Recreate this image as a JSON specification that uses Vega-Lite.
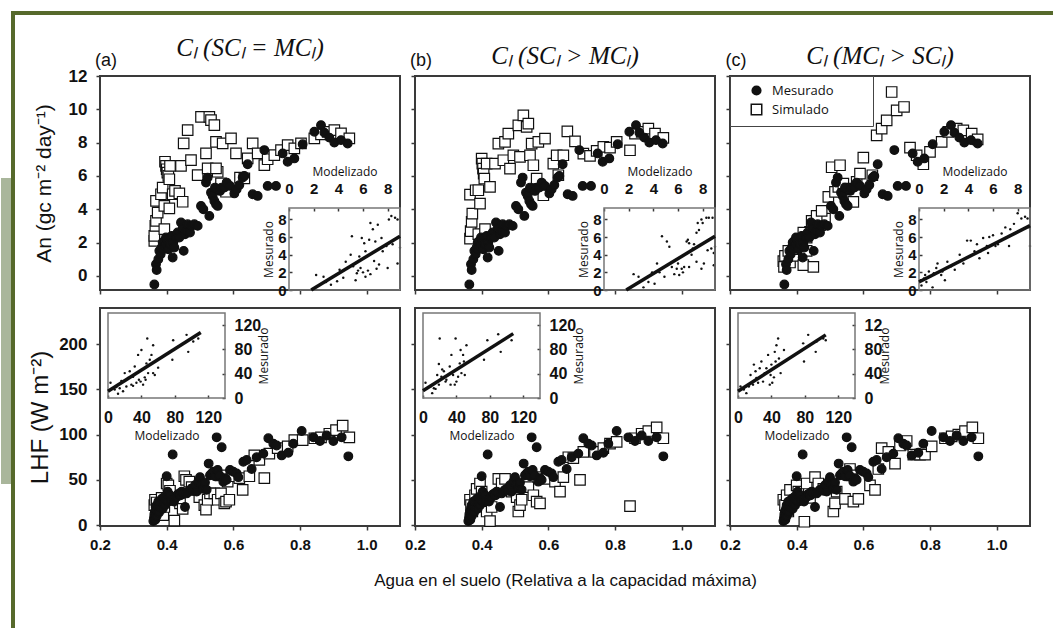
{
"$schema": "https://vega.github.io/schema/vega-lite/v6.json",
"background": "white",
"padding": {"left": 0, "top": 10, "right": 0, "bottom": 0},
"columns": 3,
"bounds": "flush",
"spacing": {"row": 18, "column": 15},
"resolve": {"scale": {"shape": "independent", "fill": "independent", "size": "independent"}, "legend": {"shape": "independent", "fill": "independent", "size": "independent"}},
"config": {
  "view": {"stroke": "#3a3a3a", "strokeWidth": 2},
  "axis": {"domain": false, "grid": false, "tickColor": "#3a3a3a", "tickSize": 4, "tickWidth": 1.5, "labelFont": "Liberation Sans", "labelFontWeight": "bold", "labelFontSize": 17, "labelColor": "#111", "titleFont": "Liberation Sans", "titleFontWeight": "normal", "titleColor": "#111", "labelFlush": false, "labelOverlap": false},
  "title": {"font": "Liberation Serif", "fontSize": 25, "fontStyle": "italic", "fontWeight": "normal", "color": "#111", "offset": 6, "frame": "group"}
},
"datasets": {
"an": [
{"s":"Simulado","p":"a","x":0.363,"y":2.1},{"s":"Simulado","p":"a","x":0.363,"y":2.4},{"s":"Simulado","p":"a","x":0.366,"y":3.0},{"s":"Simulado","p":"a","x":0.368,"y":3.3},{"s":"Simulado","p":"a","x":0.373,"y":3.8},{"s":"Simulado","p":"a","x":0.368,"y":4.5},{"s":"Simulado","p":"a","x":0.383,"y":4.9},{"s":"Simulado","p":"a","x":0.388,"y":5.3},{"s":"Simulado","p":"a","x":0.393,"y":4.2},{"s":"Simulado","p":"a","x":0.393,"y":2.8},{"s":"Simulado","p":"a","x":0.395,"y":6.85},{"s":"Simulado","p":"a","x":0.398,"y":6.6},{"s":"Simulado","p":"a","x":0.4,"y":6.4},{"s":"Simulado","p":"a","x":0.402,"y":6.2},{"s":"Simulado","p":"a","x":0.405,"y":6.0},{"s":"Simulado","p":"a","x":0.408,"y":5.8},{"s":"Simulado","p":"a","x":0.41,"y":6.6},{"s":"Simulado","p":"a","x":0.408,"y":4.05},{"s":"Simulado","p":"a","x":0.418,"y":4.9},{"s":"Simulado","p":"a","x":0.425,"y":5.1},{"s":"Simulado","p":"a","x":0.443,"y":6.6},{"s":"Simulado","p":"a","x":0.438,"y":4.95},{"s":"Simulado","p":"a","x":0.448,"y":4.45},{"s":"Simulado","p":"a","x":0.451,"y":7.95},{"s":"Simulado","p":"a","x":0.463,"y":8.75},{"s":"Simulado","p":"a","x":0.473,"y":6.95},{"s":"Simulado","p":"a","x":0.493,"y":6.05},{"s":"Simulado","p":"a","x":0.503,"y":9.55},{"s":"Simulado","p":"a","x":0.518,"y":7.35},{"s":"Simulado","p":"a","x":0.523,"y":6.45},{"s":"Simulado","p":"a","x":0.528,"y":9.55},{"s":"Simulado","p":"a","x":0.533,"y":9.35},{"s":"Simulado","p":"a","x":0.543,"y":9.05},{"s":"Simulado","p":"a","x":0.548,"y":8.05},{"s":"Simulado","p":"a","x":0.553,"y":6.25},{"s":"Simulado","p":"a","x":0.548,"y":6.45},{"s":"Simulado","p":"a","x":0.563,"y":5.55},{"s":"Simulado","p":"a","x":0.568,"y":7.95},{"s":"Simulado","p":"a","x":0.578,"y":5.05},{"s":"Simulado","p":"a","x":0.593,"y":8.25},{"s":"Simulado","p":"a","x":0.608,"y":7.35},{"s":"Simulado","p":"a","x":0.62,"y":5.9},{"s":"Simulado","p":"a","x":0.633,"y":5.85},{"s":"Simulado","p":"a","x":0.643,"y":7.05},{"s":"Simulado","p":"a","x":0.658,"y":7.95},{"s":"Simulado","p":"a","x":0.673,"y":7.35},{"s":"Simulado","p":"a","x":0.693,"y":6.65},{"s":"Simulado","p":"a","x":0.703,"y":7.0},{"s":"Simulado","p":"a","x":0.723,"y":7.25},{"s":"Simulado","p":"a","x":0.743,"y":7.55},{"s":"Simulado","p":"a","x":0.763,"y":7.85},{"s":"Simulado","p":"a","x":0.783,"y":7.65},{"s":"Simulado","p":"a","x":0.803,"y":7.95},{"s":"Simulado","p":"a","x":0.843,"y":8.25},{"s":"Simulado","p":"a","x":0.863,"y":8.5},{"s":"Simulado","p":"a","x":0.883,"y":8.65},{"s":"Simulado","p":"a","x":0.903,"y":8.75},{"s":"Simulado","p":"a","x":0.923,"y":8.55},{"s":"Simulado","p":"a","x":0.948,"y":8.25},
{"s":"Simulado","p":"b","x":0.365,"y":2.24},{"s":"Simulado","p":"b","x":0.367,"y":2.68},{"s":"Simulado","p":"b","x":0.37,"y":3.24},{"s":"Simulado","p":"b","x":0.372,"y":3.74},{"s":"Simulado","p":"b","x":0.365,"y":4.88},{"s":"Simulado","p":"b","x":0.382,"y":5.14},{"s":"Simulado","p":"b","x":0.39,"y":5.14},{"s":"Simulado","p":"b","x":0.395,"y":4.34},{"s":"Simulado","p":"b","x":0.4,"y":7.04},{"s":"Simulado","p":"b","x":0.402,"y":6.74},{"s":"Simulado","p":"b","x":0.404,"y":6.44},{"s":"Simulado","p":"b","x":0.406,"y":6.14},{"s":"Simulado","p":"b","x":0.408,"y":5.84},{"s":"Simulado","p":"b","x":0.415,"y":6.74},{"s":"Simulado","p":"b","x":0.425,"y":5.34},{"s":"Simulado","p":"b","x":0.44,"y":6.74},{"s":"Simulado","p":"b","x":0.45,"y":7.94},{"s":"Simulado","p":"b","x":0.465,"y":6.94},{"s":"Simulado","p":"b","x":0.47,"y":8.04},{"s":"Simulado","p":"b","x":0.48,"y":8.54},{"s":"Simulado","p":"b","x":0.485,"y":6.44},{"s":"Simulado","p":"b","x":0.495,"y":7.24},{"s":"Simulado","p":"b","x":0.51,"y":9.04},{"s":"Simulado","p":"b","x":0.515,"y":7.14},{"s":"Simulado","p":"b","x":0.525,"y":9.64},{"s":"Simulado","p":"b","x":0.535,"y":8.94},{"s":"Simulado","p":"b","x":0.54,"y":9.14},{"s":"Simulado","p":"b","x":0.545,"y":7.24},{"s":"Simulado","p":"b","x":0.55,"y":7.94},{"s":"Simulado","p":"b","x":0.555,"y":6.64},{"s":"Simulado","p":"b","x":0.565,"y":5.84},{"s":"Simulado","p":"b","x":0.57,"y":8.04},{"s":"Simulado","p":"b","x":0.585,"y":4.84},{"s":"Simulado","p":"b","x":0.59,"y":8.24},{"s":"Simulado","p":"b","x":0.615,"y":6.74},{"s":"Simulado","p":"b","x":0.625,"y":7.24},{"s":"Simulado","p":"b","x":0.63,"y":6.04},{"s":"Simulado","p":"b","x":0.645,"y":7.24},{"s":"Simulado","p":"b","x":0.657,"y":8.68},{"s":"Simulado","p":"b","x":0.68,"y":8.08},{"s":"Simulado","p":"b","x":0.705,"y":7.34},{"s":"Simulado","p":"b","x":0.725,"y":7.2},{"s":"Simulado","p":"b","x":0.745,"y":7.5},{"s":"Simulado","p":"b","x":0.765,"y":7.74},{"s":"Simulado","p":"b","x":0.785,"y":7.7},{"s":"Simulado","p":"b","x":0.805,"y":8.04},{"s":"Simulado","p":"b","x":0.845,"y":7.54},{"s":"Simulado","p":"b","x":0.86,"y":8.54},{"s":"Simulado","p":"b","x":0.88,"y":8.64},{"s":"Simulado","p":"b","x":0.9,"y":8.84},{"s":"Simulado","p":"b","x":0.92,"y":8.54},{"s":"Simulado","p":"b","x":0.945,"y":8.28},{"s":"Simulado","p":"b","x":0.39,"y":2.5},{"s":"Simulado","p":"b","x":0.41,"y":2.8},
{"s":"Simulado","p":"c","x":0.36,"y":0.88},{"s":"Simulado","p":"c","x":0.362,"y":0.54},{"s":"Simulado","p":"c","x":0.365,"y":1.2},{"s":"Simulado","p":"c","x":0.375,"y":1.5},{"s":"Simulado","p":"c","x":0.38,"y":0.8},{"s":"Simulado","p":"c","x":0.39,"y":1.2},{"s":"Simulado","p":"c","x":0.395,"y":1.6},{"s":"Simulado","p":"c","x":0.405,"y":1.84},{"s":"Simulado","p":"c","x":0.42,"y":0.64},{"s":"Simulado","p":"c","x":0.43,"y":1.5},{"s":"Simulado","p":"c","x":0.45,"y":0.54},{"s":"Simulado","p":"c","x":0.44,"y":2.64},{"s":"Simulado","p":"c","x":0.455,"y":2.94},{"s":"Simulado","p":"c","x":0.47,"y":3.04},{"s":"Simulado","p":"c","x":0.485,"y":3.44},{"s":"Simulado","p":"c","x":0.495,"y":4.74},{"s":"Simulado","p":"c","x":0.505,"y":6.52},{"s":"Simulado","p":"c","x":0.53,"y":6.64},{"s":"Simulado","p":"c","x":0.515,"y":5.04},{"s":"Simulado","p":"c","x":0.525,"y":5.34},{"s":"Simulado","p":"c","x":0.54,"y":5.54},{"s":"Simulado","p":"c","x":0.555,"y":5.24},{"s":"Simulado","p":"c","x":0.57,"y":4.44},{"s":"Simulado","p":"c","x":0.58,"y":5.64},{"s":"Simulado","p":"c","x":0.59,"y":6.14},{"s":"Simulado","p":"c","x":0.6,"y":7.1},{"s":"Simulado","p":"c","x":0.627,"y":6.04},{"s":"Simulado","p":"c","x":0.64,"y":8.44},{"s":"Simulado","p":"c","x":0.655,"y":8.84},{"s":"Simulado","p":"c","x":0.67,"y":9.34},{"s":"Simulado","p":"c","x":0.685,"y":11.04},{"s":"Simulado","p":"c","x":0.7,"y":9.94},{"s":"Simulado","p":"c","x":0.722,"y":10.14},{"s":"Simulado","p":"c","x":0.74,"y":7.7},{"s":"Simulado","p":"c","x":0.76,"y":7.24},{"s":"Simulado","p":"c","x":0.78,"y":6.7},{"s":"Simulado","p":"c","x":0.8,"y":7.44},{"s":"Simulado","p":"c","x":0.835,"y":8.04},{"s":"Simulado","p":"c","x":0.855,"y":8.64},{"s":"Simulado","p":"c","x":0.88,"y":8.84},{"s":"Simulado","p":"c","x":0.9,"y":8.74},{"s":"Simulado","p":"c","x":0.925,"y":8.54},{"s":"Simulado","p":"c","x":0.943,"y":8.2},{"s":"Simulado","p":"c","x":0.41,"y":2.2},{"s":"Simulado","p":"c","x":0.42,"y":2.6},{"s":"Simulado","p":"c","x":0.43,"y":2.3},{"s":"Simulado","p":"c","x":0.445,"y":3.3},{"s":"Simulado","p":"c","x":0.46,"y":3.6},{"s":"Simulado","p":"c","x":0.475,"y":3.9},
{"s":"Mesurado","x":0.363,"y":-0.52},{"s":"Mesurado","x":0.368,"y":0.7},{"s":"Mesurado","x":0.37,"y":0.35},{"s":"Mesurado","x":0.375,"y":1.0},{"s":"Mesurado","x":0.378,"y":1.5},{"s":"Mesurado","x":0.382,"y":1.3},{"s":"Mesurado","x":0.385,"y":1.7},{"s":"Mesurado","x":0.388,"y":2.0},{"s":"Mesurado","x":0.39,"y":1.6},{"s":"Mesurado","x":0.393,"y":2.1},{"s":"Mesurado","x":0.395,"y":1.8},{"s":"Mesurado","x":0.398,"y":2.3},{"s":"Mesurado","x":0.4,"y":1.9},{"s":"Mesurado","x":0.403,"y":2.2},{"s":"Mesurado","x":0.405,"y":1.6},{"s":"Mesurado","x":0.408,"y":2.0},{"s":"Mesurado","x":0.41,"y":1.9},{"s":"Mesurado","x":0.415,"y":2.4},{"s":"Mesurado","x":0.418,"y":1.1},{"s":"Mesurado","x":0.42,"y":2.0},{"s":"Mesurado","x":0.423,"y":1.7},{"s":"Mesurado","x":0.428,"y":2.3},{"s":"Mesurado","x":0.433,"y":2.6},{"s":"Mesurado","x":0.438,"y":2.3},{"s":"Mesurado","x":0.443,"y":3.2},{"s":"Mesurado","x":0.448,"y":2.85},{"s":"Mesurado","x":0.451,"y":1.5},{"s":"Mesurado","x":0.455,"y":2.5},{"s":"Mesurado","x":0.46,"y":2.7},{"s":"Mesurado","x":0.463,"y":3.1},{"s":"Mesurado","x":0.47,"y":2.6},{"s":"Mesurado","x":0.475,"y":3.0},{"s":"Mesurado","x":0.483,"y":3.1},{"s":"Mesurado","x":0.493,"y":3.0},{"s":"Mesurado","x":0.503,"y":4.2},{"s":"Mesurado","x":0.51,"y":4.0},{"s":"Mesurado","x":0.518,"y":5.6},{"s":"Mesurado","x":0.523,"y":5.9},{"s":"Mesurado","x":0.528,"y":3.6},{"s":"Mesurado","x":0.533,"y":5.0},{"s":"Mesurado","x":0.538,"y":4.8},{"s":"Mesurado","x":0.543,"y":4.5},{"s":"Mesurado","x":0.545,"y":5.3},{"s":"Mesurado","x":0.548,"y":4.3},{"s":"Mesurado","x":0.553,"y":4.2},{"s":"Mesurado","x":0.56,"y":5.1},{"s":"Mesurado","x":0.565,"y":5.3},{"s":"Mesurado","x":0.573,"y":5.3},{"s":"Mesurado","x":0.58,"y":5.6},{"s":"Mesurado","x":0.59,"y":5.4},{"s":"Mesurado","x":0.603,"y":4.95},{"s":"Mesurado","x":0.61,"y":5.2},{"s":"Mesurado","x":0.618,"y":5.45},{"s":"Mesurado","x":0.628,"y":5.9},{"s":"Mesurado","x":0.633,"y":6.0},{"s":"Mesurado","x":0.643,"y":6.7},{"s":"Mesurado","x":0.658,"y":4.9},{"s":"Mesurado","x":0.673,"y":4.8},{"s":"Mesurado","x":0.693,"y":7.55},{"s":"Mesurado","x":0.703,"y":5.4},{"s":"Mesurado","x":0.728,"y":5.4},{"s":"Mesurado","x":0.748,"y":7.35},{"s":"Mesurado","x":0.763,"y":6.85},{"s":"Mesurado","x":0.783,"y":7.05},{"s":"Mesurado","x":0.808,"y":7.9},{"s":"Mesurado","x":0.843,"y":8.65},{"s":"Mesurado","x":0.863,"y":9.05},{"s":"Mesurado","x":0.873,"y":8.6},{"s":"Mesurado","x":0.888,"y":8.3},{"s":"Mesurado","x":0.903,"y":8.0},{"s":"Mesurado","x":0.923,"y":8.15},{"s":"Mesurado","x":0.943,"y":7.95}
],
"lhf": [
{"s":"Simulado","p":"a","x":0.363,"y":22},{"s":"Simulado","p":"a","x":0.365,"y":28},{"s":"Simulado","p":"a","x":0.37,"y":25},{"s":"Simulado","p":"a","x":0.375,"y":18},{"s":"Simulado","p":"a","x":0.38,"y":13},{"s":"Simulado","p":"a","x":0.385,"y":30},{"s":"Simulado","p":"a","x":0.39,"y":11},{"s":"Simulado","p":"a","x":0.393,"y":20},{"s":"Simulado","p":"a","x":0.4,"y":46},{"s":"Simulado","p":"a","x":0.405,"y":44},{"s":"Simulado","p":"a","x":0.41,"y":38},{"s":"Simulado","p":"a","x":0.423,"y":5},{"s":"Simulado","p":"a","x":0.425,"y":28},{"s":"Simulado","p":"a","x":0.44,"y":24},{"s":"Simulado","p":"a","x":0.448,"y":18},{"s":"Simulado","p":"a","x":0.453,"y":54},{"s":"Simulado","p":"a","x":0.458,"y":50},{"s":"Simulado","p":"a","x":0.468,"y":48},{"s":"Simulado","p":"a","x":0.475,"y":42},{"s":"Simulado","p":"a","x":0.483,"y":39},{"s":"Simulado","p":"a","x":0.498,"y":31},{"s":"Simulado","p":"a","x":0.513,"y":22},{"s":"Simulado","p":"a","x":0.518,"y":17},{"s":"Simulado","p":"a","x":0.523,"y":28},{"s":"Simulado","p":"a","x":0.53,"y":35},{"s":"Simulado","p":"a","x":0.543,"y":35},{"s":"Simulado","p":"a","x":0.553,"y":28},{"s":"Simulado","p":"a","x":0.563,"y":35},{"s":"Simulado","p":"a","x":0.563,"y":55},{"s":"Simulado","p":"a","x":0.573,"y":24},{"s":"Simulado","p":"a","x":0.578,"y":26},{"s":"Simulado","p":"a","x":0.583,"y":48},{"s":"Simulado","p":"a","x":0.588,"y":28},{"s":"Simulado","p":"a","x":0.603,"y":54},{"s":"Simulado","p":"a","x":0.618,"y":52},{"s":"Simulado","p":"a","x":0.628,"y":39},{"s":"Simulado","p":"a","x":0.648,"y":54},{"s":"Simulado","p":"a","x":0.663,"y":77},{"s":"Simulado","p":"a","x":0.678,"y":72},{"s":"Simulado","p":"a","x":0.693,"y":52},{"s":"Simulado","p":"a","x":0.708,"y":79},{"s":"Simulado","p":"a","x":0.733,"y":85},{"s":"Simulado","p":"a","x":0.763,"y":87},{"s":"Simulado","p":"a","x":0.783,"y":94},{"s":"Simulado","p":"a","x":0.808,"y":94},{"s":"Simulado","p":"a","x":0.843,"y":96},{"s":"Simulado","p":"a","x":0.863,"y":97},{"s":"Simulado","p":"a","x":0.888,"y":101},{"s":"Simulado","p":"a","x":0.908,"y":105},{"s":"Simulado","p":"a","x":0.928,"y":110},{"s":"Simulado","p":"a","x":0.948,"y":97},
{"s":"Simulado","p":"b","x":0.365,"y":28},{"s":"Simulado","p":"b","x":0.368,"y":22},{"s":"Simulado","p":"b","x":0.372,"y":15},{"s":"Simulado","p":"b","x":0.38,"y":33},{"s":"Simulado","p":"b","x":0.385,"y":40},{"s":"Simulado","p":"b","x":0.39,"y":25},{"s":"Simulado","p":"b","x":0.395,"y":46},{"s":"Simulado","p":"b","x":0.4,"y":37},{"s":"Simulado","p":"b","x":0.405,"y":28},{"s":"Simulado","p":"b","x":0.415,"y":15},{"s":"Simulado","p":"b","x":0.425,"y":4.4},{"s":"Simulado","p":"b","x":0.43,"y":20},{"s":"Simulado","p":"b","x":0.45,"y":51},{"s":"Simulado","p":"b","x":0.46,"y":46},{"s":"Simulado","p":"b","x":0.47,"y":51},{"s":"Simulado","p":"b","x":0.49,"y":37},{"s":"Simulado","p":"b","x":0.505,"y":31},{"s":"Simulado","p":"b","x":0.51,"y":15},{"s":"Simulado","p":"b","x":0.515,"y":22},{"s":"Simulado","p":"b","x":0.52,"y":28},{"s":"Simulado","p":"b","x":0.54,"y":42},{"s":"Simulado","p":"b","x":0.555,"y":33},{"s":"Simulado","p":"b","x":0.565,"y":26},{"s":"Simulado","p":"b","x":0.575,"y":24},{"s":"Simulado","p":"b","x":0.57,"y":53},{"s":"Simulado","p":"b","x":0.595,"y":51},{"s":"Simulado","p":"b","x":0.62,"y":48},{"s":"Simulado","p":"b","x":0.635,"y":37},{"s":"Simulado","p":"b","x":0.645,"y":53},{"s":"Simulado","p":"b","x":0.66,"y":75},{"s":"Simulado","p":"b","x":0.675,"y":74},{"s":"Simulado","p":"b","x":0.695,"y":50},{"s":"Simulado","p":"b","x":0.705,"y":81},{"s":"Simulado","p":"b","x":0.74,"y":81},{"s":"Simulado","p":"b","x":0.765,"y":85},{"s":"Simulado","p":"b","x":0.785,"y":90},{"s":"Simulado","p":"b","x":0.805,"y":92},{"s":"Simulado","p":"b","x":0.845,"y":21},{"s":"Simulado","p":"b","x":0.86,"y":96},{"s":"Simulado","p":"b","x":0.88,"y":101},{"s":"Simulado","p":"b","x":0.9,"y":104},{"s":"Simulado","p":"b","x":0.925,"y":108},{"s":"Simulado","p":"b","x":0.945,"y":96},
{"s":"Simulado","p":"c","x":0.36,"y":28},{"s":"Simulado","p":"c","x":0.365,"y":22},{"s":"Simulado","p":"c","x":0.37,"y":33},{"s":"Simulado","p":"c","x":0.375,"y":15},{"s":"Simulado","p":"c","x":0.38,"y":39},{"s":"Simulado","p":"c","x":0.39,"y":25},{"s":"Simulado","p":"c","x":0.4,"y":44},{"s":"Simulado","p":"c","x":0.405,"y":37},{"s":"Simulado","p":"c","x":0.41,"y":29},{"s":"Simulado","p":"c","x":0.423,"y":3.7},{"s":"Simulado","p":"c","x":0.43,"y":46},{"s":"Simulado","p":"c","x":0.44,"y":30},{"s":"Simulado","p":"c","x":0.455,"y":53},{"s":"Simulado","p":"c","x":0.465,"y":46},{"s":"Simulado","p":"c","x":0.48,"y":40},{"s":"Simulado","p":"c","x":0.51,"y":15},{"s":"Simulado","p":"c","x":0.515,"y":24},{"s":"Simulado","p":"c","x":0.52,"y":37},{"s":"Simulado","p":"c","x":0.545,"y":29},{"s":"Simulado","p":"c","x":0.56,"y":62},{"s":"Simulado","p":"c","x":0.565,"y":55},{"s":"Simulado","p":"c","x":0.57,"y":26},{"s":"Simulado","p":"c","x":0.585,"y":29},{"s":"Simulado","p":"c","x":0.62,"y":44},{"s":"Simulado","p":"c","x":0.635,"y":39},{"s":"Simulado","p":"c","x":0.645,"y":62},{"s":"Simulado","p":"c","x":0.655,"y":85},{"s":"Simulado","p":"c","x":0.675,"y":81},{"s":"Simulado","p":"c","x":0.695,"y":68},{"s":"Simulado","p":"c","x":0.71,"y":88},{"s":"Simulado","p":"c","x":0.73,"y":93},{"s":"Simulado","p":"c","x":0.75,"y":78},{"s":"Simulado","p":"c","x":0.77,"y":78},{"s":"Simulado","p":"c","x":0.785,"y":78},{"s":"Simulado","p":"c","x":0.805,"y":87},{"s":"Simulado","p":"c","x":0.845,"y":96},{"s":"Simulado","p":"c","x":0.865,"y":98},{"s":"Simulado","p":"c","x":0.885,"y":100},{"s":"Simulado","p":"c","x":0.905,"y":104},{"s":"Simulado","p":"c","x":0.927,"y":108},{"s":"Simulado","p":"c","x":0.945,"y":96},
{"s":"Mesurado","x":0.36,"y":4.4},{"s":"Mesurado","x":0.362,"y":8},{"s":"Mesurado","x":0.363,"y":12},{"s":"Mesurado","x":0.365,"y":15},{"s":"Mesurado","x":0.366,"y":6},{"s":"Mesurado","x":0.368,"y":18},{"s":"Mesurado","x":0.37,"y":22},{"s":"Mesurado","x":0.37,"y":10},{"s":"Mesurado","x":0.372,"y":16},{"s":"Mesurado","x":0.375,"y":26},{"s":"Mesurado","x":0.377,"y":14},{"s":"Mesurado","x":0.38,"y":20},{"s":"Mesurado","x":0.382,"y":25},{"s":"Mesurado","x":0.385,"y":29},{"s":"Mesurado","x":0.388,"y":18},{"s":"Mesurado","x":0.39,"y":24},{"s":"Mesurado","x":0.393,"y":31},{"s":"Mesurado","x":0.395,"y":22},{"s":"Mesurado","x":0.398,"y":28},{"s":"Mesurado","x":0.4,"y":54},{"s":"Mesurado","x":0.403,"y":37},{"s":"Mesurado","x":0.405,"y":26},{"s":"Mesurado","x":0.41,"y":33},{"s":"Mesurado","x":0.413,"y":27},{"s":"Mesurado","x":0.418,"y":78},{"s":"Mesurado","x":0.422,"y":26},{"s":"Mesurado","x":0.425,"y":30},{"s":"Mesurado","x":0.43,"y":31},{"s":"Mesurado","x":0.434,"y":34},{"s":"Mesurado","x":0.438,"y":35},{"s":"Mesurado","x":0.442,"y":33},{"s":"Mesurado","x":0.445,"y":37},{"s":"Mesurado","x":0.45,"y":36},{"s":"Mesurado","x":0.455,"y":20},{"s":"Mesurado","x":0.46,"y":35},{"s":"Mesurado","x":0.465,"y":37},{"s":"Mesurado","x":0.47,"y":39},{"s":"Mesurado","x":0.475,"y":40},{"s":"Mesurado","x":0.48,"y":38},{"s":"Mesurado","x":0.485,"y":44},{"s":"Mesurado","x":0.49,"y":37},{"s":"Mesurado","x":0.495,"y":48},{"s":"Mesurado","x":0.5,"y":53},{"s":"Mesurado","x":0.505,"y":45},{"s":"Mesurado","x":0.51,"y":40},{"s":"Mesurado","x":0.515,"y":47},{"s":"Mesurado","x":0.52,"y":39},{"s":"Mesurado","x":0.526,"y":68},{"s":"Mesurado","x":0.53,"y":55},{"s":"Mesurado","x":0.535,"y":57},{"s":"Mesurado","x":0.54,"y":59},{"s":"Mesurado","x":0.545,"y":54},{"s":"Mesurado","x":0.55,"y":97},{"s":"Mesurado","x":0.553,"y":61},{"s":"Mesurado","x":0.558,"y":55},{"s":"Mesurado","x":0.565,"y":86},{"s":"Mesurado","x":0.57,"y":48},{"s":"Mesurado","x":0.575,"y":52},{"s":"Mesurado","x":0.58,"y":50},{"s":"Mesurado","x":0.59,"y":61},{"s":"Mesurado","x":0.6,"y":59},{"s":"Mesurado","x":0.61,"y":57},{"s":"Mesurado","x":0.615,"y":53},{"s":"Mesurado","x":0.63,"y":70},{"s":"Mesurado","x":0.64,"y":72},{"s":"Mesurado","x":0.655,"y":62},{"s":"Mesurado","x":0.67,"y":75},{"s":"Mesurado","x":0.69,"y":79},{"s":"Mesurado","x":0.705,"y":96},{"s":"Mesurado","x":0.72,"y":90},{"s":"Mesurado","x":0.73,"y":88},{"s":"Mesurado","x":0.745,"y":77},{"s":"Mesurado","x":0.765,"y":80},{"s":"Mesurado","x":0.78,"y":90},{"s":"Mesurado","x":0.805,"y":104},{"s":"Mesurado","x":0.84,"y":97},{"s":"Mesurado","x":0.86,"y":93},{"s":"Mesurado","x":0.88,"y":99},{"s":"Mesurado","x":0.9,"y":93},{"s":"Mesurado","x":0.925,"y":97},{"s":"Mesurado","x":0.945,"y":76}
],
"ins_an": [
{"p":"a","m":2.2,"o":1.7},{"p":"a","m":2.8,"o":1.5},{"p":"a","m":3.4,"o":0.6},{"p":"a","m":3.9,"o":1.0},{"p":"a","m":4.1,"o":2.3},{"p":"a","m":4.6,"o":3.2},{"p":"a","m":5.0,"o":4.0},{"p":"a","m":5.1,"o":6.1},{"p":"a","m":5.2,"o":2.7},{"p":"a","m":5.4,"o":1.1},{"p":"a","m":5.5,"o":1.9},{"p":"a","m":5.7,"o":3.8},{"p":"a","m":5.8,"o":2.5},{"p":"a","m":5.9,"o":5.9},{"p":"a","m":6.1,"o":5.3},{"p":"a","m":6.2,"o":4.4},{"p":"a","m":6.2,"o":1.5},{"p":"a","m":6.4,"o":2.2},{"p":"a","m":6.5,"o":5.7},{"p":"a","m":6.6,"o":7.6},{"p":"a","m":6.8,"o":6.9},{"p":"a","m":7.0,"o":5.5},{"p":"a","m":7.2,"o":7.4},{"p":"a","m":7.3,"o":2.9},{"p":"a","m":7.5,"o":5.9},{"p":"a","m":7.9,"o":5.0},{"p":"a","m":8.0,"o":2.5},{"p":"a","m":8.1,"o":8.0},{"p":"a","m":8.3,"o":8.4},{"p":"a","m":8.6,"o":8.2},{"p":"a","m":8.8,"o":8.0},{"p":"a","m":8.8,"o":3.0},{"p":"a","m":9.0,"o":4.8},{"p":"a","m":6.0,"o":2.0},{"p":"a","m":6.6,"o":1.8},{"p":"a","m":5.6,"o":2.2},{"p":"a","m":7.1,"o":2.4},{"p":"a","m":6.9,"o":3.3},{"p":"a","m":7.6,"o":4.4},{"p":"a","m":8.4,"o":5.2},{"p":"a","m":4.4,"o":1.4},{"p":"a","m":3.0,"o":0.9},
{"p":"b","m":2.4,"o":1.8},{"p":"b","m":2.8,"o":1.5},{"p":"b","m":3.2,"o":0.3},{"p":"b","m":3.6,"o":0.9},{"p":"b","m":3.9,"o":2.0},{"p":"b","m":4.1,"o":0.7},{"p":"b","m":4.3,"o":3.0},{"p":"b","m":4.5,"o":2.0},{"p":"b","m":4.9,"o":1.5},{"p":"b","m":4.7,"o":6.1},{"p":"b","m":5.1,"o":5.5},{"p":"b","m":5.3,"o":4.9},{"p":"b","m":5.5,"o":2.6},{"p":"b","m":5.7,"o":1.8},{"p":"b","m":5.9,"o":2.4},{"p":"b","m":6.0,"o":3.0},{"p":"b","m":6.1,"o":1.7},{"p":"b","m":6.3,"o":2.4},{"p":"b","m":6.4,"o":2.0},{"p":"b","m":6.5,"o":2.6},{"p":"b","m":6.7,"o":5.5},{"p":"b","m":6.8,"o":5.7},{"p":"b","m":6.9,"o":5.3},{"p":"b","m":7.1,"o":4.0},{"p":"b","m":7.2,"o":4.7},{"p":"b","m":7.3,"o":5.2},{"p":"b","m":7.5,"o":6.5},{"p":"b","m":7.6,"o":7.6},{"p":"b","m":7.7,"o":6.8},{"p":"b","m":7.9,"o":8.0},{"p":"b","m":8.0,"o":7.6},{"p":"b","m":8.1,"o":3.0},{"p":"b","m":8.3,"o":8.2},{"p":"b","m":8.4,"o":4.5},{"p":"b","m":8.5,"o":8.2},{"p":"b","m":8.7,"o":4.7},{"p":"b","m":8.8,"o":8.2},{"p":"b","m":8.9,"o":4.2},{"p":"b","m":8.9,"o":2.8},{"p":"b","m":9.0,"o":4.9},{"p":"b","m":6.9,"o":2.6},{"p":"b","m":7.5,"o":3.2},{"p":"b","m":7.9,"o":2.4},
{"p":"c","m":0.1,"o":1.1},{"p":"c","m":0.2,"o":0.5},{"p":"c","m":0.4,"o":1.3},{"p":"c","m":0.5,"o":1.7},{"p":"c","m":0.6,"o":0.9},{"p":"c","m":0.8,"o":2.1},{"p":"c","m":0.9,"o":1.5},{"p":"c","m":1.1,"o":0.3},{"p":"c","m":1.2,"o":1.9},{"p":"c","m":1.4,"o":2.5},{"p":"c","m":1.5,"o":3.0},{"p":"c","m":1.8,"o":1.7},{"p":"c","m":1.9,"o":2.1},{"p":"c","m":2.1,"o":1.1},{"p":"c","m":2.2,"o":2.5},{"p":"c","m":2.3,"o":3.2},{"p":"c","m":2.6,"o":2.7},{"p":"c","m":2.9,"o":2.3},{"p":"c","m":3.3,"o":4.0},{"p":"c","m":3.6,"o":3.0},{"p":"c","m":3.9,"o":5.6},{"p":"c","m":4.2,"o":5.6},{"p":"c","m":4.5,"o":4.4},{"p":"c","m":4.7,"o":5.2},{"p":"c","m":4.9,"o":3.6},{"p":"c","m":5.0,"o":4.4},{"p":"c","m":5.2,"o":5.9},{"p":"c","m":5.5,"o":5.0},{"p":"c","m":5.6,"o":4.2},{"p":"c","m":5.7,"o":6.0},{"p":"c","m":6.0,"o":6.2},{"p":"c","m":6.2,"o":5.0},{"p":"c","m":6.4,"o":5.2},{"p":"c","m":6.7,"o":6.4},{"p":"c","m":7.0,"o":7.1},{"p":"c","m":7.3,"o":5.0},{"p":"c","m":7.4,"o":6.9},{"p":"c","m":7.7,"o":7.5},{"p":"c","m":8.0,"o":8.7},{"p":"c","m":8.3,"o":8.1},{"p":"c","m":8.6,"o":8.3},{"p":"c","m":8.8,"o":8.1},{"p":"c","m":9.0,"o":5.0},{"p":"c","m":8.95,"o":7.1}
],
"line_an": [
{"p":"a","m":1.8,"o":0},{"p":"a","m":9,"o":6.1},
{"p":"b","m":1.8,"o":0},{"p":"b","m":9,"o":6.1},
{"p":"c","m":0,"o":0.9},{"p":"c","m":9,"o":7.3}
],
"ins_lhf": [
{"p":"a","m":3,"o":25},{"p":"a","m":8,"o":14},{"p":"a","m":12,"o":7},{"p":"a","m":14,"o":16},{"p":"a","m":18,"o":11},{"p":"a","m":20,"o":41},{"p":"a","m":22,"o":19},{"p":"a","m":24,"o":33},{"p":"a","m":26,"o":44},{"p":"a","m":28,"o":22},{"p":"a","m":30,"o":35},{"p":"a","m":32,"o":52},{"p":"a","m":34,"o":25},{"p":"a","m":36,"o":71},{"p":"a","m":37,"o":30},{"p":"a","m":39,"o":27},{"p":"a","m":40,"o":79},{"p":"a","m":42,"o":22},{"p":"a","m":44,"o":34},{"p":"a","m":46,"o":57},{"p":"a","m":47,"o":98},{"p":"a","m":48,"o":41},{"p":"a","m":50,"o":63},{"p":"a","m":52,"o":71},{"p":"a","m":54,"o":87},{"p":"a","m":54,"o":41},{"p":"a","m":56,"o":38},{"p":"a","m":78,"o":95},{"p":"a","m":77,"o":63},{"p":"a","m":94,"o":104},{"p":"a","m":96,"o":76},{"p":"a","m":102,"o":93},{"p":"a","m":108,"o":98},{"p":"a","m":16,"o":28},{"p":"a","m":10,"o":18},{"p":"a","m":30,"o":20},{"p":"a","m":45,"o":30},{"p":"a","m":60,"o":50},
{"p":"b","m":3,"o":25},{"p":"b","m":9,"o":19},{"p":"b","m":11,"o":8},{"p":"b","m":13,"o":16},{"p":"b","m":15,"o":15},{"p":"b","m":17,"o":38},{"p":"b","m":19,"o":22},{"p":"b","m":19,"o":56},{"p":"b","m":22,"o":35},{"p":"b","m":23,"o":47},{"p":"b","m":25,"o":44},{"p":"b","m":27,"o":27},{"p":"b","m":28,"o":30},{"p":"b","m":30,"o":38},{"p":"b","m":32,"o":52},{"p":"b","m":33,"o":22},{"p":"b","m":34,"o":71},{"p":"b","m":36,"o":38},{"p":"b","m":38,"o":22},{"p":"b","m":39,"o":98},{"p":"b","m":40,"o":27},{"p":"b","m":42,"o":35},{"p":"b","m":44,"o":57},{"p":"b","m":45,"o":79},{"p":"b","m":46,"o":41},{"p":"b","m":48,"o":71},{"p":"b","m":49,"o":60},{"p":"b","m":50,"o":38},{"p":"b","m":52,"o":87},{"p":"b","m":20,"o":98},{"p":"b","m":73,"o":63},{"p":"b","m":77,"o":95},{"p":"b","m":93,"o":76},{"p":"b","m":90,"o":105},{"p":"b","m":106,"o":95},
{"p":"c","m":3,"o":19},{"p":"c","m":7,"o":14},{"p":"c","m":10,"o":8},{"p":"c","m":13,"o":19},{"p":"c","m":15,"o":38},{"p":"c","m":18,"o":22},{"p":"c","m":19,"o":55},{"p":"c","m":21,"o":44},{"p":"c","m":22,"o":33},{"p":"c","m":24,"o":25},{"p":"c","m":26,"o":49},{"p":"c","m":28,"o":60},{"p":"c","m":30,"o":27},{"p":"c","m":32,"o":41},{"p":"c","m":34,"o":49},{"p":"c","m":36,"o":71},{"p":"c","m":38,"o":22},{"p":"c","m":39,"o":38},{"p":"c","m":40,"o":55},{"p":"c","m":41,"o":25},{"p":"c","m":43,"o":34},{"p":"c","m":44,"o":76},{"p":"c","m":45,"o":60},{"p":"c","m":46,"o":87},{"p":"c","m":48,"o":98},{"p":"c","m":49,"o":65},{"p":"c","m":51,"o":41},{"p":"c","m":55,"o":79},{"p":"c","m":79,"o":60},{"p":"c","m":78,"o":90},{"p":"c","m":84,"o":104},{"p":"c","m":93,"o":76},{"p":"c","m":94,"o":93},{"p":"c","m":102,"o":98},{"p":"c","m":105,"o":95}
],
"line_lhf": [
{"p":"a","m":0,"o":11},{"p":"a","m":111,"o":108},
{"p":"b","m":0,"o":12},{"p":"b","m":108,"o":106},
{"p":"c","m":0,"o":11},{"p":"c","m":105,"o":104}
]
},
"concat": [
{
"width": 300, "height": 214,
"title": {"text": "Cₗ (SCₗ = MCₗ)"},
"resolve": {"scale": {"x": "independent", "y": "independent"}, "axis": {"x": "independent", "y": "independent"}},
"layer": [
{"data": {"name": "an"}, "transform": [{"filter": "datum.s == 'Mesurado' || datum.p == 'a'"}], "mark": {"type": "point", "filled": true, "stroke": "#111", "strokeWidth": 1.2, "opacity": 1}, "encoding": {
 "x": {"field": "x", "type": "quantitative", "scale": {"domain": [0.2, 1.1], "nice": false, "zero": false}, "axis": {"values": [0.2, 0.4, 0.6, 0.8, 1.0], "labels": false, "title": null}},
 "y": {"field": "y", "type": "quantitative", "scale": {"domain": [-0.85, 12], "nice": false, "zero": false}, "axis": {"values": [0, 2, 4, 6, 8, 10, 12], "title": "An (gc m⁻² day⁻¹)", "titleFontSize": 21, "titlePadding": 14, "labelPadding": 9, "labelFontWeight": "bold", "labelOverlap": false}},
 "shape": {"field": "s", "type": "nominal", "scale": {"domain": ["Mesurado", "Simulado"], "range": ["circle", "square"]}, "legend": null},
 "fill": {"field": "s", "type": "nominal", "scale": {"domain": ["Mesurado", "Simulado"], "range": ["#111", "white"]}, "legend": null},
 "size": {"field": "s", "type": "ordinal", "scale": {"domain": ["Mesurado", "Simulado"], "range": [75, 110]}, "legend": null}}},
{"layer": [
{"data": {"name": "ins_an"}, "transform": [{"filter": "datum.p == 'a'"}], "mark": {"type": "circle", "size": 6, "color": "#111", "opacity": 1}, "encoding": {
 "x": {"field": "m", "type": "quantitative", "scale": {"domain": [0, 9], "range": [189, 300], "nice": false, "zero": false}, "axis": {"orient": "top", "offset": -132, "values": [0, 2, 4, 6, 8], "title": "Modelizado", "titleFont": "Open Sans", "titleFontSize": 12, "titlePadding": 3, "labelFontSize": 15, "labelFontWeight": "bold", "labelPadding": 15, "tickSize": -3}},
 "y": {"field": "o", "type": "quantitative", "scale": {"domain": [0, 9.3], "range": [214, 132], "nice": false, "zero": false}, "axis": {"orient": "left", "offset": -189, "values": [0, 2, 4, 6, 8], "title": "Mesurado", "titleFont": "Open Sans", "titleFontSize": 12, "titlePadding": 2, "labelFontSize": 15, "labelFontWeight": "bold", "labelPadding": 6, "tickSize": -3}}}},
{"data": {"values": [{}]}, "mark": {"type": "rect", "filled": false, "stroke": "#777", "strokeWidth": 1.5}, "encoding": {"x": {"datum": 0, "type": "quantitative", "scale": {"domain": [0, 9], "range": [189, 300], "nice": false, "zero": false}}, "x2": {"datum": 9}, "y": {"datum": 0, "type": "quantitative", "scale": {"domain": [0, 9.3], "range": [214, 132], "nice": false, "zero": false}}, "y2": {"datum": 9.3}}},
{"data": {"name": "line_an"}, "transform": [{"filter": "datum.p == 'a'"}], "mark": {"type": "line", "color": "#111", "strokeWidth": 3.5}, "encoding": {"x": {"field": "m", "type": "quantitative", "scale": {"domain": [0, 9], "range": [189, 300], "nice": false, "zero": false}}, "y": {"field": "o", "type": "quantitative", "scale": {"domain": [0, 9.3], "range": [214, 132], "nice": false, "zero": false}}}}
]}
]
},
{
"width": 300, "height": 214,
"title": {"text": "Cₗ (SCₗ > MCₗ)"},
"resolve": {"scale": {"x": "independent", "y": "independent"}, "axis": {"x": "independent", "y": "independent"}},
"layer": [
{"data": {"name": "an"}, "transform": [{"filter": "datum.s == 'Mesurado' || datum.p == 'b'"}], "mark": {"type": "point", "filled": true, "stroke": "#111", "strokeWidth": 1.2, "opacity": 1}, "encoding": {
 "x": {"field": "x", "type": "quantitative", "scale": {"domain": [0.2, 1.1], "nice": false, "zero": false}, "axis": {"values": [0.2, 0.4, 0.6, 0.8, 1.0], "labels": false, "title": null}},
 "y": {"field": "y", "type": "quantitative", "scale": {"domain": [-0.85, 12], "nice": false, "zero": false}, "axis": {"values": [0, 2, 4, 6, 8, 10, 12], "labels": false, "title": null}},
 "shape": {"field": "s", "type": "nominal", "scale": {"domain": ["Mesurado", "Simulado"], "range": ["circle", "square"]}, "legend": null},
 "fill": {"field": "s", "type": "nominal", "scale": {"domain": ["Mesurado", "Simulado"], "range": ["#111", "white"]}, "legend": null},
 "size": {"field": "s", "type": "ordinal", "scale": {"domain": ["Mesurado", "Simulado"], "range": [75, 110]}, "legend": null}}},
{"layer": [
{"data": {"name": "ins_an"}, "transform": [{"filter": "datum.p == 'b'"}], "mark": {"type": "circle", "size": 6, "color": "#111", "opacity": 1}, "encoding": {
 "x": {"field": "m", "type": "quantitative", "scale": {"domain": [0, 9], "range": [189, 300], "nice": false, "zero": false}, "axis": {"orient": "top", "offset": -132, "values": [0, 2, 4, 6, 8], "title": "Modelizado", "titleFont": "Open Sans", "titleFontSize": 12, "titlePadding": 3, "labelFontSize": 15, "labelFontWeight": "bold", "labelPadding": 15, "tickSize": -3}},
 "y": {"field": "o", "type": "quantitative", "scale": {"domain": [0, 9.3], "range": [214, 132], "nice": false, "zero": false}, "axis": {"orient": "left", "offset": -189, "values": [0, 2, 4, 6, 8], "title": "Mesurado", "titleFont": "Open Sans", "titleFontSize": 12, "titlePadding": 2, "labelFontSize": 15, "labelFontWeight": "bold", "labelPadding": 6, "tickSize": -3}}}},
{"data": {"values": [{}]}, "mark": {"type": "rect", "filled": false, "stroke": "#777", "strokeWidth": 1.5}, "encoding": {"x": {"datum": 0, "type": "quantitative", "scale": {"domain": [0, 9], "range": [189, 300], "nice": false, "zero": false}}, "x2": {"datum": 9}, "y": {"datum": 0, "type": "quantitative", "scale": {"domain": [0, 9.3], "range": [214, 132], "nice": false, "zero": false}}, "y2": {"datum": 9.3}}},
{"data": {"name": "line_an"}, "transform": [{"filter": "datum.p == 'b'"}], "mark": {"type": "line", "color": "#111", "strokeWidth": 3.5}, "encoding": {"x": {"field": "m", "type": "quantitative", "scale": {"domain": [0, 9], "range": [189, 300], "nice": false, "zero": false}}, "y": {"field": "o", "type": "quantitative", "scale": {"domain": [0, 9.3], "range": [214, 132], "nice": false, "zero": false}}}}
]}
]
},
{
"width": 300, "height": 214,
"title": {"text": "Cₗ (MCₗ > SCₗ)"},
"resolve": {"scale": {"x": "independent", "y": "independent"}, "axis": {"x": "independent", "y": "independent"}},
"layer": [
{"data": {"name": "an"}, "transform": [{"filter": "datum.s == 'Mesurado' || datum.p == 'c'"}], "mark": {"type": "point", "filled": true, "stroke": "#111", "strokeWidth": 1.2, "opacity": 1}, "encoding": {
 "x": {"field": "x", "type": "quantitative", "scale": {"domain": [0.2, 1.1], "nice": false, "zero": false}, "axis": {"values": [0.2, 0.4, 0.6, 0.8, 1.0], "labels": false, "title": null}},
 "y": {"field": "y", "type": "quantitative", "scale": {"domain": [-0.85, 12], "nice": false, "zero": false}, "axis": {"values": [0, 2, 4, 6, 8, 10, 12], "labels": false, "title": null}},
 "shape": {"field": "s", "type": "nominal", "scale": {"domain": ["Mesurado", "Simulado"], "range": ["circle", "square"]}, "legend": {"orient": "top-left", "offset": 0, "title": ".", "titleColor": "white", "titleFontSize": 4, "titleOrient": "right", "titlePadding": 30, "padding": 8, "symbolOffset": 12, "labelOffset": 9, "rowPadding": 3, "strokeColor": "#444", "fillColor": "white", "labelFont": "Open Sans", "labelFontSize": 13, "labelColor": "#111", "encode": {"symbols": {"update": {"stroke": {"value": "#111"}, "strokeWidth": {"value": 1.2}}}}}},
 "fill": {"field": "s", "type": "nominal", "scale": {"domain": ["Mesurado", "Simulado"], "range": ["#111", "white"]}, "legend": {"orient": "top-left", "offset": 0, "title": ".", "titleColor": "white", "titleFontSize": 4, "titleOrient": "right", "titlePadding": 30, "padding": 8, "symbolOffset": 12, "labelOffset": 9, "rowPadding": 3, "strokeColor": "#444", "fillColor": "white", "labelFont": "Open Sans", "labelFontSize": 13, "labelColor": "#111", "encode": {"symbols": {"update": {"stroke": {"value": "#111"}, "strokeWidth": {"value": 1.2}}}}}},
 "size": {"field": "s", "type": "ordinal", "scale": {"domain": ["Mesurado", "Simulado"], "range": [75, 110]}, "legend": {"orient": "top-left", "offset": 0, "title": ".", "titleColor": "white", "titleFontSize": 4, "titleOrient": "right", "titlePadding": 30, "padding": 8, "symbolOffset": 12, "labelOffset": 9, "rowPadding": 3, "strokeColor": "#444", "fillColor": "white", "labelFont": "Open Sans", "labelFontSize": 13, "labelColor": "#111", "encode": {"symbols": {"update": {"stroke": {"value": "#111"}, "strokeWidth": {"value": 1.2}}}}}}}},
{"layer": [
{"data": {"name": "ins_an"}, "transform": [{"filter": "datum.p == 'c'"}], "mark": {"type": "circle", "size": 6, "color": "#111", "opacity": 1}, "encoding": {
 "x": {"field": "m", "type": "quantitative", "scale": {"domain": [0, 9], "range": [189, 300], "nice": false, "zero": false}, "axis": {"orient": "top", "offset": -132, "values": [0, 2, 4, 6, 8], "title": "Modelizado", "titleFont": "Open Sans", "titleFontSize": 12, "titlePadding": 3, "labelFontSize": 15, "labelFontWeight": "bold", "labelPadding": 15, "tickSize": -3}},
 "y": {"field": "o", "type": "quantitative", "scale": {"domain": [0, 9.3], "range": [214, 132], "nice": false, "zero": false}, "axis": {"orient": "left", "offset": -189, "values": [0, 2, 4, 6, 8], "title": "Mesurado", "titleFont": "Open Sans", "titleFontSize": 12, "titlePadding": 2, "labelFontSize": 15, "labelFontWeight": "bold", "labelPadding": 6, "tickSize": -3}}}},
{"data": {"values": [{}]}, "mark": {"type": "rect", "filled": false, "stroke": "#777", "strokeWidth": 1.5}, "encoding": {"x": {"datum": 0, "type": "quantitative", "scale": {"domain": [0, 9], "range": [189, 300], "nice": false, "zero": false}}, "x2": {"datum": 9}, "y": {"datum": 0, "type": "quantitative", "scale": {"domain": [0, 9.3], "range": [214, 132], "nice": false, "zero": false}}, "y2": {"datum": 9.3}}},
{"data": {"name": "line_an"}, "transform": [{"filter": "datum.p == 'c'"}], "mark": {"type": "line", "color": "#111", "strokeWidth": 3.5}, "encoding": {"x": {"field": "m", "type": "quantitative", "scale": {"domain": [0, 9], "range": [189, 300], "nice": false, "zero": false}}, "y": {"field": "o", "type": "quantitative", "scale": {"domain": [0, 9.3], "range": [214, 132], "nice": false, "zero": false}}}}
]}
]
},
{
"width": 300, "height": 218,
"resolve": {"scale": {"x": "independent", "y": "independent"}, "axis": {"x": "independent", "y": "independent"}},
"layer": [
{"layer": [
{"data": {"name": "lhf"}, "transform": [{"filter": "datum.s == 'Mesurado' || datum.p == 'a'"}], "mark": {"type": "point", "filled": true, "stroke": "#111", "strokeWidth": 1.2, "opacity": 1}, "encoding": {
 "x": {"field": "x", "type": "quantitative", "scale": {"domain": [0.2, 1.1], "nice": false, "zero": false}, "axis": {"values": [0.2, 0.4, 0.6, 0.8, 1.0], "format": ".1f", "title": null, "labelFontSize": 15, "labelFontWeight": "bold", "labelPadding": 7}},
 "y": {"field": "y", "type": "quantitative", "scale": {"domain": [-1, 240], "nice": false, "zero": false}, "axis": {"values": [0, 50, 100, 150, 200], "title": "LHF (W m⁻²)", "titleFontSize": 24, "titlePadding": 6, "labelPadding": 9, "labelFontWeight": "bold"}},
 "shape": {"field": "s", "type": "nominal", "scale": {"domain": ["Mesurado", "Simulado"], "range": ["circle", "square"]}, "legend": null},
 "fill": {"field": "s", "type": "nominal", "scale": {"domain": ["Mesurado", "Simulado"], "range": ["#111", "white"]}, "legend": null},
 "size": {"field": "s", "type": "ordinal", "scale": {"domain": ["Mesurado", "Simulado"], "range": [75, 110]}, "legend": null}}},
{"data": {"values": [{}]}, "mark": {"type": "rect", "color": "#a9b69b", "clip": false}, "encoding": {"x": {"datum": -0.097, "type": "quantitative", "scale": {"domain": [0.2, 1.1], "nice": false, "zero": false}}, "x2": {"datum": -0.067}, "y": {"datum": 383.7, "type": "quantitative", "scale": {"domain": [-1, 240], "nice": false, "zero": false}}, "y2": {"datum": 45.4}}},
{"data": {"values": [{}]}, "mark": {"type": "rule", "color": "#56692b", "strokeWidth": 4, "clip": false}, "encoding": {"x": {"datum": -0.061, "type": "quantitative", "scale": {"domain": [0.2, 1.1], "nice": false, "zero": false}}, "y": {"datum": 566.1, "type": "quantitative", "scale": {"domain": [-1, 240], "nice": false, "zero": false}}, "y2": {"datum": -113.8}}},
{"data": {"values": [{}]}, "mark": {"type": "rule", "color": "#56692b", "strokeWidth": 4, "clip": false}, "encoding": {"x": {"datum": -0.067, "type": "quantitative", "scale": {"domain": [0.2, 1.1], "nice": false, "zero": false}}, "x2": {"datum": 3.059}, "y": {"datum": 566.1, "type": "quantitative", "scale": {"domain": [-1, 240], "nice": false, "zero": false}}}},
{"data": {"values": [{}]}, "mark": {"type": "text", "text": "(a)", "font": "Liberation Sans", "fontSize": 18, "color": "#111", "align": "center", "baseline": "middle"}, "encoding": {"x": {"datum": 0.218, "type": "quantitative", "scale": {"domain": [0.2, 1.1], "nice": false, "zero": false}}, "y": {"datum": 513, "type": "quantitative", "scale": {"domain": [-1, 240], "nice": false, "zero": false}}}}
]},
{"layer": [
{"data": {"name": "ins_lhf"}, "transform": [{"filter": "datum.p == 'a'"}], "mark": {"type": "circle", "size": 6, "color": "#111", "opacity": 1}, "encoding": {
 "x": {"field": "m", "type": "quantitative", "scale": {"domain": [0, 140], "range": [8, 125], "nice": false, "zero": false}, "axis": {"orient": "bottom", "offset": -128, "values": [0, 40, 80, 120], "title": "Modelizado", "titleFont": "Open Sans", "titleFontSize": 12, "titlePadding": 5, "labelFontSize": 16, "labelFontWeight": "bold", "labelPadding": 14, "tickSize": -3}},
 "y": {"field": "o", "type": "quantitative", "scale": {"domain": [0, 140], "range": [90, 5], "nice": false, "zero": false}, "axis": {"orient": "right", "offset": -175, "values": [0, 40, 80, 120], "title": "Mesurado", "titleAngle": 270, "titleFont": "Open Sans", "titleFontSize": 12, "titlePadding": 10, "labelFontSize": 16, "labelFontWeight": "bold", "labelPadding": 12, "tickSize": -3}}}},
{"data": {"values": [{}]}, "mark": {"type": "rect", "filled": false, "stroke": "#777", "strokeWidth": 1.5}, "encoding": {"x": {"datum": 0, "type": "quantitative", "scale": {"domain": [0, 140], "range": [8, 125], "nice": false, "zero": false}}, "x2": {"datum": 140}, "y": {"datum": 0, "type": "quantitative", "scale": {"domain": [0, 140], "range": [90, 5], "nice": false, "zero": false}}, "y2": {"datum": 140}}},
{"data": {"name": "line_lhf"}, "transform": [{"filter": "datum.p == 'a'"}], "mark": {"type": "line", "color": "#111", "strokeWidth": 3.5}, "encoding": {"x": {"field": "m", "type": "quantitative", "scale": {"domain": [0, 140], "range": [8, 125], "nice": false, "zero": false}}, "y": {"field": "o", "type": "quantitative", "scale": {"domain": [0, 140], "range": [90, 5], "nice": false, "zero": false}}}}
]}
]
},
{
"width": 300, "height": 218,
"resolve": {"scale": {"x": "independent", "y": "independent"}, "axis": {"x": "independent", "y": "independent"}},
"layer": [
{"layer": [
{"data": {"name": "lhf"}, "transform": [{"filter": "datum.s == 'Mesurado' || datum.p == 'b'"}], "mark": {"type": "point", "filled": true, "stroke": "#111", "strokeWidth": 1.2, "opacity": 1}, "encoding": {
 "x": {"field": "x", "type": "quantitative", "scale": {"domain": [0.2, 1.1], "nice": false, "zero": false}, "axis": {"values": [0.2, 0.4, 0.6, 0.8, 1.0], "format": ".1f", "title": "Agua en el suelo (Relativa a la capacidad máxima)", "titleFont": "Liberation Sans", "titleFontSize": 17, "titlePadding": 20, "labelFontSize": 15, "labelFontWeight": "bold", "labelPadding": 7}},
 "y": {"field": "y", "type": "quantitative", "scale": {"domain": [-1, 240], "nice": false, "zero": false}, "axis": {"values": [0, 50, 100, 150, 200], "labels": false, "title": null}},
 "shape": {"field": "s", "type": "nominal", "scale": {"domain": ["Mesurado", "Simulado"], "range": ["circle", "square"]}, "legend": null},
 "fill": {"field": "s", "type": "nominal", "scale": {"domain": ["Mesurado", "Simulado"], "range": ["#111", "white"]}, "legend": null},
 "size": {"field": "s", "type": "ordinal", "scale": {"domain": ["Mesurado", "Simulado"], "range": [75, 110]}, "legend": null}}},
{"data": {"values": [{}]}, "mark": {"type": "text", "text": "(b)", "font": "Liberation Sans", "fontSize": 18, "color": "#111", "align": "center", "baseline": "middle"}, "encoding": {"x": {"datum": 0.218, "type": "quantitative", "scale": {"domain": [0.2, 1.1], "nice": false, "zero": false}}, "y": {"datum": 513, "type": "quantitative", "scale": {"domain": [-1, 240], "nice": false, "zero": false}}}}
]},
{"layer": [
{"data": {"name": "ins_lhf"}, "transform": [{"filter": "datum.p == 'b'"}], "mark": {"type": "circle", "size": 6, "color": "#111", "opacity": 1}, "encoding": {
 "x": {"field": "m", "type": "quantitative", "scale": {"domain": [0, 140], "range": [8, 125], "nice": false, "zero": false}, "axis": {"orient": "bottom", "offset": -128, "values": [0, 40, 80, 120], "title": "Modelizado", "titleFont": "Open Sans", "titleFontSize": 12, "titlePadding": 5, "labelFontSize": 16, "labelFontWeight": "bold", "labelPadding": 14, "tickSize": -3}},
 "y": {"field": "o", "type": "quantitative", "scale": {"domain": [0, 140], "range": [90, 5], "nice": false, "zero": false}, "axis": {"orient": "right", "offset": -175, "values": [0, 40, 80, 120], "title": "Mesurado", "titleAngle": 270, "titleFont": "Open Sans", "titleFontSize": 12, "titlePadding": 10, "labelFontSize": 16, "labelFontWeight": "bold", "labelPadding": 12, "tickSize": -3}}}},
{"data": {"values": [{}]}, "mark": {"type": "rect", "filled": false, "stroke": "#777", "strokeWidth": 1.5}, "encoding": {"x": {"datum": 0, "type": "quantitative", "scale": {"domain": [0, 140], "range": [8, 125], "nice": false, "zero": false}}, "x2": {"datum": 140}, "y": {"datum": 0, "type": "quantitative", "scale": {"domain": [0, 140], "range": [90, 5], "nice": false, "zero": false}}, "y2": {"datum": 140}}},
{"data": {"name": "line_lhf"}, "transform": [{"filter": "datum.p == 'b'"}], "mark": {"type": "line", "color": "#111", "strokeWidth": 3.5}, "encoding": {"x": {"field": "m", "type": "quantitative", "scale": {"domain": [0, 140], "range": [8, 125], "nice": false, "zero": false}}, "y": {"field": "o", "type": "quantitative", "scale": {"domain": [0, 140], "range": [90, 5], "nice": false, "zero": false}}}}
]}
]
},
{
"width": 300, "height": 218,
"resolve": {"scale": {"x": "independent", "y": "independent"}, "axis": {"x": "independent", "y": "independent"}},
"layer": [
{"layer": [
{"data": {"name": "lhf"}, "transform": [{"filter": "datum.s == 'Mesurado' || datum.p == 'c'"}], "mark": {"type": "point", "filled": true, "stroke": "#111", "strokeWidth": 1.2, "opacity": 1}, "encoding": {
 "x": {"field": "x", "type": "quantitative", "scale": {"domain": [0.2, 1.1], "nice": false, "zero": false}, "axis": {"values": [0.2, 0.4, 0.6, 0.8, 1.0], "format": ".1f", "title": null, "labelFontSize": 15, "labelFontWeight": "bold", "labelPadding": 7}},
 "y": {"field": "y", "type": "quantitative", "scale": {"domain": [-1, 240], "nice": false, "zero": false}, "axis": {"values": [0, 50, 100, 150, 200], "labels": false, "title": null}},
 "shape": {"field": "s", "type": "nominal", "scale": {"domain": ["Mesurado", "Simulado"], "range": ["circle", "square"]}, "legend": null},
 "fill": {"field": "s", "type": "nominal", "scale": {"domain": ["Mesurado", "Simulado"], "range": ["#111", "white"]}, "legend": null},
 "size": {"field": "s", "type": "ordinal", "scale": {"domain": ["Mesurado", "Simulado"], "range": [75, 110]}, "legend": null}}},
{"data": {"values": [{}]}, "mark": {"type": "text", "text": "(c)", "font": "Liberation Sans", "fontSize": 18, "color": "#111", "align": "center", "baseline": "middle"}, "encoding": {"x": {"datum": 0.218, "type": "quantitative", "scale": {"domain": [0.2, 1.1], "nice": false, "zero": false}}, "y": {"datum": 513, "type": "quantitative", "scale": {"domain": [-1, 240], "nice": false, "zero": false}}}}
]},
{"layer": [
{"data": {"name": "ins_lhf"}, "transform": [{"filter": "datum.p == 'c'"}], "mark": {"type": "circle", "size": 6, "color": "#111", "opacity": 1}, "encoding": {
 "x": {"field": "m", "type": "quantitative", "scale": {"domain": [0, 140], "range": [8, 125], "nice": false, "zero": false}, "axis": {"orient": "bottom", "offset": -128, "values": [0, 40, 80, 120], "title": "Modelizado", "titleFont": "Open Sans", "titleFontSize": 12, "titlePadding": 5, "labelFontSize": 16, "labelFontWeight": "bold", "labelPadding": 14, "tickSize": -3}},
 "y": {"field": "o", "type": "quantitative", "scale": {"domain": [0, 140], "range": [90, 5], "nice": false, "zero": false}, "axis": {"orient": "right", "offset": -175, "values": [0, 40, 80, 120], "labelExpr": "datum.value == 120 ? '12' : datum.label", "title": "Mesurado", "titleAngle": 270, "titleFont": "Open Sans", "titleFontSize": 12, "titlePadding": 10, "labelFontSize": 16, "labelFontWeight": "bold", "labelPadding": 12, "tickSize": -3}}}},
{"data": {"values": [{}]}, "mark": {"type": "rect", "filled": false, "stroke": "#777", "strokeWidth": 1.5}, "encoding": {"x": {"datum": 0, "type": "quantitative", "scale": {"domain": [0, 140], "range": [8, 125], "nice": false, "zero": false}}, "x2": {"datum": 140}, "y": {"datum": 0, "type": "quantitative", "scale": {"domain": [0, 140], "range": [90, 5], "nice": false, "zero": false}}, "y2": {"datum": 140}}},
{"data": {"name": "line_lhf"}, "transform": [{"filter": "datum.p == 'c'"}], "mark": {"type": "line", "color": "#111", "strokeWidth": 3.5}, "encoding": {"x": {"field": "m", "type": "quantitative", "scale": {"domain": [0, 140], "range": [8, 125], "nice": false, "zero": false}}, "y": {"field": "o", "type": "quantitative", "scale": {"domain": [0, 140], "range": [90, 5], "nice": false, "zero": false}}}}
]}
]
}
]
}
